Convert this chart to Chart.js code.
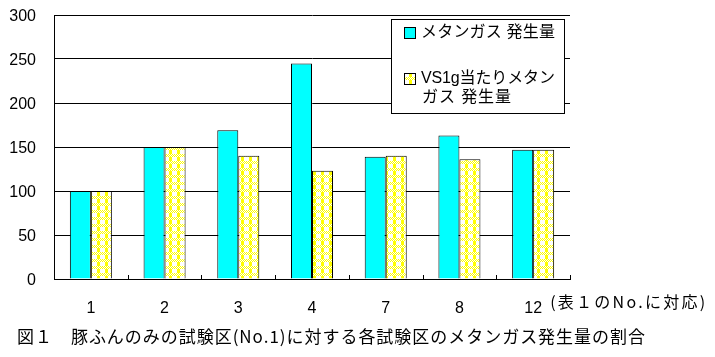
<!DOCTYPE html>
<html><head><meta charset="utf-8">
<script src="https://cdn.jsdelivr.net/npm/chart.js@4"></script>
<style>html,body{margin:0;padding:0;background:#fff;}canvas{display:block;}</style>
</head><body>
<canvas id="c" width="715" height="357"></canvas>
<script>
const categories = ['1', '2', '3', '4', '7', '8', '12'];
const methaneGas = [100, 150, 169, 245, 139, 163, 147];
const methanePerVS = [100, 150, 140, 123, 140, 136, 147];
const yTicks = [0, 50, 100, 150, 200, 250, 300];
const seriesNames = ['メタンガス 発生量', 'VS1g当たりメタンガス 発生量'];
const legendLines = [['メタンガス 発生量'], ['VS1g当たりメタン', 'ガス 発生量']];
const xNote = '(表１のNo.に対応)';
const caption = '図１　豚ふんのみの試験区(No.1)に対する各試験区のメタンガス発生量の割合';

const FONT = '"Liberation Sans", "Noto Sans CJK JP", sans-serif';
const JFONT = '"Noto Sans CJK JP", sans-serif';

function makePattern(){
  const PX = 8, PY = 7;
  const c = document.createElement('canvas'); c.width = PX; c.height = PY;
  const g = c.getContext('2d');
  g.fillStyle = '#ffffff'; g.fillRect(0,0,PX,PY);
  g.fillStyle = '#ffff00';
  for (let y=0;y<PY;y++) for (let x=0;x<PX;x++){
    const band = y < 3, stripe = x >= 1 && x <= 3;
    if (band) { if ((x+y)%2===0) g.fillRect(x,y,1,1); }
    else if (stripe) g.fillRect(x,y,1,1);
  }
  return document.getElementById('c').getContext('2d').createPattern(c,'repeat');
}
const yellowPattern = makePattern();

function fitText(ctx, text, x, y, width){
  const w = ctx.measureText(text).width;
  const extra = (width - w) / Math.max(1, [...text].length - 1);
  ctx.letterSpacing = extra.toFixed(2) + 'px';
  ctx.fillText(text, x, y);
  ctx.letterSpacing = '0px';
}

const extras = {
  id: 'extras',
  afterDraw(chart){
    const ctx = chart.ctx;
    const xs = chart.scales.x, ys = chart.scales.y;
    ctx.save();
    ctx.strokeStyle = '#000'; ctx.lineWidth = 1;
    const n = categories.length;
    for (let i=1;i<=n;i++){
      const x = Math.round(xs.left + i*(xs.width/n)) + 0.5;
      ctx.beginPath(); ctx.moveTo(x, ys.bottom); ctx.lineTo(x, ys.bottom-4); ctx.stroke();
    }
    ctx.fillStyle = '#000';
    ctx.font = '16px ' + JFONT;
    ctx.textBaseline = 'middle'; ctx.textAlign = 'left';
    fitText(ctx, xNote, xs.getPixelForValue(n-1) + 17, 302, 155);
    ctx.font = '17px ' + JFONT;
    fitText(ctx, caption, 17, 337, 628);
    // legend
    const lx = 391.5, ly = 19.5, lw = 173, lh = 94;
    ctx.fillStyle = '#fff'; ctx.fillRect(lx, ly, lw, lh);
    ctx.strokeStyle = '#000'; ctx.strokeRect(lx, ly, lw, lh);
    const entries = [
      {fill: chart.data.datasets[0].backgroundColor, y: 33, lines: legendLines[0], widths: [134]},
      {fill: chart.data.datasets[1].backgroundColor, y: 79, lines: legendLines[1], widths: [134, 89]}
    ];
    ctx.font = '16px ' + FONT;
    entries.forEach(e => {
      ctx.fillStyle = e.fill;
      ctx.fillRect(404.5, e.y-5.5, 11, 11);
      ctx.strokeRect(404.5, e.y-5.5, 11, 11);
      ctx.fillStyle = '#000';
      e.lines.forEach((t, k) => fitText(ctx, t, k===0 ? 421 : 422, e.y + k*19, e.widths[k]));
    });
    ctx.restore();
  }
};

new Chart(document.getElementById('c'), {
  type: 'bar',
  data: {
    labels: categories,
    datasets: [
      {label: seriesNames[0], data: methaneGas, backgroundColor: '#00ffff', borderColor: '#000', borderWidth: 1},
      {label: seriesNames[1], data: methanePerVS, backgroundColor: yellowPattern, borderColor: '#000', borderWidth: 1}
    ]
  },
  options: {
    responsive: false, animation: false, devicePixelRatio: 1,
    layout: {padding: {left: 0, right: 145, top: 15, bottom: 0}},
    datasets: {bar: {categoryPercentage: 0.57, barPercentage: 1.0}},
    plugins: {legend: {display: false}, tooltip: {enabled: false}},
    scales: {
      x: {
        grid: {display: false},
        border: {display: true, color: '#000', width: 1},
        ticks: {color: '#000', font: {family: FONT, size: 16}, padding: 12, maxRotation: 0},
        afterFit(s){ s.height = 78; }
      },
      y: {
        min: 0, max: 300,
        afterBuildTicks(s){ s.ticks = yTicks.map(v => ({value: v})); },
        grid: {color: '#000', lineWidth: 1, drawTicks: false},
        border: {display: true, color: '#000', width: 1},
        ticks: {color: '#000', font: {family: FONT, size: 16}, padding: 18, labelOffset: 2},
        afterFit(s){ s.width = 54; s.paddingTop = 0; s.paddingBottom = 0; }
      }
    }
  },
  plugins: [extras]
});
</script>
</body></html>
